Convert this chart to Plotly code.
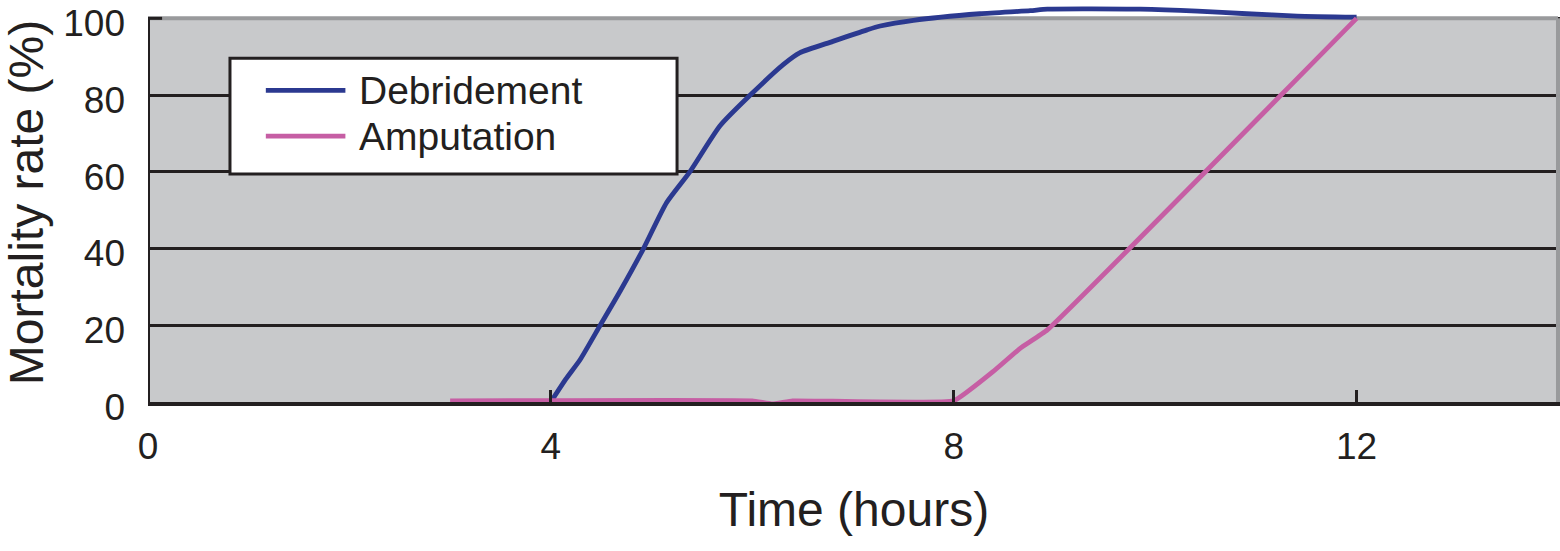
import plotly.graph_objects as go

# ---- data ----
debridement_x = [4.0, 4.15, 4.29, 4.49, 4.69, 4.92, 5.15, 5.38, 5.68, 5.98, 6.31, 6.47, 6.80, 7.14, 7.27, 7.6, 8.26, 8.76, 8.93, 9.85, 10.42, 10.91, 11.41, 12.0]
debridement_y = [0.0, 6.0, 11.0, 20.0, 29.0, 40.0, 52.0, 60.0, 72.0, 80.0, 88.0, 91.0, 94.0, 97.0, 98.0, 99.5, 101.2, 102.0, 102.4, 102.4, 101.9, 101.2, 100.6, 100.3]

amputation_x = [3.0, 6.0, 6.2, 6.4, 8.0, 8.39, 8.66, 8.93, 12.0]
amputation_y = [0.3, 0.3, -0.5, 0.3, 0.3, 7.9, 14.0, 18.8, 100.0]

x_ticks = [0, 4, 8, 12]
y_ticks = [0, 20, 40, 60, 80, 100]
series_names = ["Debridement", "Amputation"]
series_colors = ["#2b3990", "#c65ea4"]

TXT = "#231f20"
FONT = "Liberation Sans, Arial, Helvetica, sans-serif"
BG = "#c8c9cb"

fig = go.Figure()
fig.add_trace(go.Scatter(x=debridement_x, y=debridement_y, mode="lines", name=series_names[0],
                         line=dict(color=series_colors[0], width=4.8, shape="spline", smoothing=0.6),
                         showlegend=False))
fig.add_trace(go.Scatter(x=amputation_x, y=amputation_y, mode="lines", name=series_names[1],
                         line=dict(color=series_colors[1], width=4.8, shape="spline", smoothing=0.3),
                         showlegend=False))

shapes = []
shapes.append(dict(type="rect", xref="x", yref="y", x0=0, x1=14, y0=0, y1=100,
                   fillcolor=BG, line=dict(width=0), layer="below"))
shapes.append(dict(type="line", xref="x", yref="y", x0=0, x1=14, y0=100, y1=100,
                   line=dict(color="#999a9c", width=4), layer="between"))
shapes.append(dict(type="line", xref="x", yref="y", x0=14, x1=14, y0=0, y1=100,
                   line=dict(color="#999a9c", width=4), layer="between"))
shapes.append(dict(type="line", xref="x", yref="y", x0=0, x1=0, y0=0, y1=100,
                   line=dict(color=TXT, width=4), layer="above"))
shapes.append(dict(type="line", xref="x", yref="y", x0=0, x1=0.14, y0=100, y1=100,
                   line=dict(color=TXT, width=3), layer="above"))

lx0, lx1, ly0, ly1 = 0.814, 5.253, 59.4, 89.6
shapes.append(dict(type="rect", xref="x", yref="y", x0=lx0, x1=lx1, y0=ly0, y1=ly1,
                   fillcolor="white", line=dict(color=TXT, width=3), layer="above"))
leg_y = [81.2, 69.3]
annotations = []
for name, col, yy in zip(series_names, series_colors, leg_y):
    shapes.append(dict(type="line", xref="x", yref="y", x0=1.17, x1=1.96, y0=yy, y1=yy,
                       line=dict(color=col, width=4.8), layer="above"))
    annotations.append(dict(x=2.08, y=yy, xref="x", yref="y", text=name, showarrow=False,
                            xanchor="left", yanchor="middle",
                            font=dict(family=FONT, size=39, color=TXT)))

fig.update_layout(
    width=1560, height=551,
    margin=dict(l=148, r=0, t=2.6, b=149, autoexpand=False),
    paper_bgcolor="white", plot_bgcolor="white",
    shapes=shapes, annotations=annotations,
    showlegend=False,
    xaxis=dict(range=[0, 14.02], tickvals=x_ticks, ticktext=[str(v) for v in x_ticks],
               automargin=False, ticklabeloverflow="allow",
               showgrid=False, zeroline=False, showline=True, linecolor=TXT, linewidth=4,
               ticks="inside", ticklen=12, tickwidth=3, tickcolor=TXT,
               ticklabelstandoff=9,
               tickfont=dict(family=FONT, size=37, color=TXT),
               title=dict(text="Time (hours)", font=dict(family=FONT, size=48, color=TXT), standoff=27)),
    yaxis=dict(range=[0, 104], tickvals=y_ticks, ticktext=[str(v) for v in y_ticks],
               automargin=False, ticklabeloverflow="allow",
               showgrid=True, gridcolor=TXT, gridwidth=3, zeroline=False, showline=False,
               ticks="", ticklabelstandoff=22, ticklabelshift=5,
               tickfont=dict(family=FONT, size=37, color=TXT),
               title=dict(text="Mortality rate (%)", font=dict(family=FONT, size=48, color=TXT), standoff=27)),
)

fig.write_html("out.html", config={"displayModeBar": False},
               post_script="document.body.style.margin='0px';document.body.style.overflow='hidden';")
